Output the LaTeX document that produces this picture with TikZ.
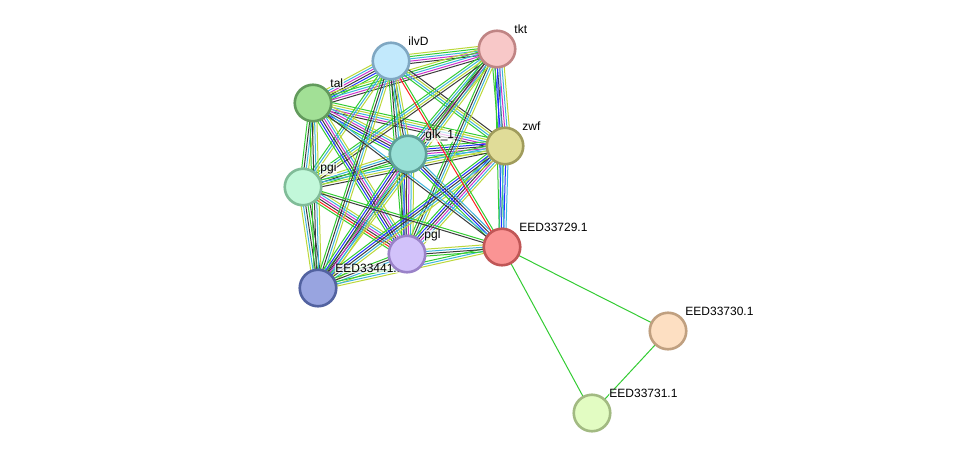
\documentclass[tikz,border=0pt]{standalone}
\usepackage{fontspec}
\setmainfont{Liberation Sans}
\usetikzlibrary{calc, backgrounds}

% Evidence colours
\definecolor{nb}{HTML}{33CC33}
\definecolor{fu}{HTML}{FF2020}
\definecolor{co}{HTML}{2233FF}
\definecolor{cx}{HTML}{3C3C3C}
\definecolor{ex}{HTML}{CC33CC}
\definecolor{db}{HTML}{3CB4DC}
\definecolor{tm}{HTML}{BCD83A}

% Protein colours (fill / rim)
\definecolor{ilvDf}{HTML}{C2E9FC}\definecolor{ilvDd}{HTML}{7FA7C2}
\definecolor{tktf}{HTML}{F8C8C8}\definecolor{tktd}{HTML}{C08484}
\definecolor{talf}{HTML}{A2E096}\definecolor{tald}{HTML}{629A5C}
\definecolor{zwff}{HTML}{E0DC98}\definecolor{zwfd}{HTML}{A09C5C}
\definecolor{glkf}{HTML}{98E0D6}\definecolor{glkd}{HTML}{5EA098}
\definecolor{pgif}{HTML}{C2F8DA}\definecolor{pgid}{HTML}{80BC98}
\definecolor{pglf}{HTML}{D2C2FA}\definecolor{pgld}{HTML}{9A82C8}
\definecolor{eedAf}{HTML}{98A4E0}\definecolor{eedAd}{HTML}{5262A0}
\definecolor{eedBf}{HTML}{FA9494}\definecolor{eedBd}{HTML}{C05656}
\definecolor{eedCf}{HTML}{FDDFC2}\definecolor{eedCd}{HTML}{C0A080}
\definecolor{eedDf}{HTML}{E2FCC2}\definecolor{eedDd}{HTML}{A2BA82}

% Bundle of parallel evidence lines between two proteins
\newcommand{\bundle}[4]{%
  \foreach \col [count=\i] in {#4} {
    \pgfmathsetmacro{\off}{(\i-(#3+1)/2)*2.3}
    \draw[evidence, \col] ($(#1)!\off pt!90:(#2)$) -- ($(#2)!\off pt!-90:(#1)$);
  }}

\tikzset{
  prot/.style={circle, minimum size=36.5pt, inner sep=0pt, line width=2.6pt,
    fill=#1f, draw=#1d},
  lbl/.style={font=\fontsize{12}{14}\selectfont, anchor=base west, inner sep=0.5pt,
    fill=white, fill opacity=0.7, text opacity=1, label distance=2pt, xshift=1.5pt},
  evidence/.style={line width=1pt}
}

\begin{document}
\begin{tikzpicture}[x=1pt, y=-1pt]
    \useasboundingbox (0,0) rectangle (975,458);

    % Proteins
    \node[prot=eedA, label={[lbl]45:EED33441.1}] (eed41) at (318,288) {};
    \node[prot=ilvD, label={[lbl]45:ilvD}] (ilvD) at (391,61) {};
    \node[prot=tkt, label={[lbl]45:tkt}] (tkt) at (497,49) {};
    \node[prot=tal, label={[lbl]45:tal}] (tal) at (313,103) {};
    \node[prot=zwf, label={[lbl]45:zwf}] (zwf) at (505,146) {};
    \node[prot=pgi, label={[lbl]45:pgi}] (pgi) at (303,187) {};
    \node[prot=glk, label={[lbl]45:glk\_1}] (glk) at (408,154) {};
    \node[prot=pgl, label={[lbl]45:pgl}] (pgl) at (407,254) {};
    \node[prot=eedB, label={[lbl]45:EED33729.1}] (eed29) at (502,247) {};
    \node[prot=eedC, label={[lbl]45:EED33730.1}] (eed30) at (668,331) {};
    \node[prot=eedD, label={[lbl]45:EED33731.1}] (eed31) at (592,413) {};

    % Evidence lines
    \begin{pgfonlayer}{background}
    \fill[white] (0,0) rectangle (975,458);
    \bundle{ilvD}{tkt}{5}{cx,ex,db,nb,tm}
    \bundle{tkt}{zwf}{6}{nb,co,cx,ex,db,tm}
    \bundle{tal}{ilvD}{6}{nb,co,cx,ex,db,tm}
    \bundle{tal}{tkt}{5}{cx,ex,db,nb,tm}
    \bundle{ilvD}{zwf}{4}{nb,db,tm,cx}
    \bundle{tal}{zwf}{5}{cx,ex,db,tm,nb}
    \bundle{ilvD}{glk}{4}{nb,cx,db,tm}
    \bundle{tkt}{glk}{5}{nb,db,cx,ex,tm}
    \bundle{tal}{glk}{6}{nb,co,cx,ex,db,tm}
    \bundle{zwf}{glk}{6}{nb,co,cx,ex,db,tm}
    \bundle{pgi}{glk}{4}{nb,cx,db,tm}
    \bundle{tal}{pgi}{4}{nb,cx,db,tm}
    \bundle{ilvD}{pgi}{3}{nb,db,tm}
    \bundle{tkt}{pgi}{4}{nb,db,tm,cx}
    \bundle{zwf}{pgi}{4}{nb,db,tm,cx}
    \bundle{pgi}{pgl}{6}{nb,fu,cx,ex,db,tm}
    \bundle{tal}{pgl}{6}{nb,co,cx,ex,db,tm}
    \bundle{ilvD}{pgl}{4}{nb,cx,db,tm}
    \bundle{tkt}{pgl}{4}{nb,cx,db,tm}
    \bundle{zwf}{pgl}{6}{nb,co,cx,ex,db,tm}
    \bundle{glk}{pgl}{6}{nb,co,cx,ex,db,tm}
    \bundle{pgi}{eed41}{5}{tm,db,cx,nb,cx}
    \bundle{tal}{eed41}{4}{nb,cx,db,tm}
    \bundle{ilvD}{eed41}{4}{nb,cx,db,tm}
    \bundle{tkt}{eed41}{4}{nb,cx,db,tm}
    \bundle{zwf}{eed41}{5}{nb,co,cx,db,tm}
    \bundle{glk}{eed41}{6}{nb,co,cx,ex,db,tm}
    \bundle{pgl}{eed41}{4}{nb,cx,db,tm}
    \bundle{eed41}{eed29}{3}{tm,db,nb}
    \bundle{pgl}{eed29}{4}{nb,cx,db,tm}
    \bundle{zwf}{eed29}{4}{db,nb,co,db}
    \bundle{tkt}{eed29}{3}{nb,co,db}
    \bundle{glk}{eed29}{4}{nb,co,cx,db}
    \bundle{ilvD}{eed29}{2}{fu,nb}
    \bundle{pgi}{eed29}{2}{cx,nb}
    \bundle{tal}{eed29}{2}{cx,db}
    \bundle{eed29}{eed30}{1}{nb}
    \bundle{eed29}{eed31}{1}{nb}
    \bundle{eed30}{eed31}{1}{nb}
    \end{pgfonlayer}
\end{tikzpicture}
\end{document}
